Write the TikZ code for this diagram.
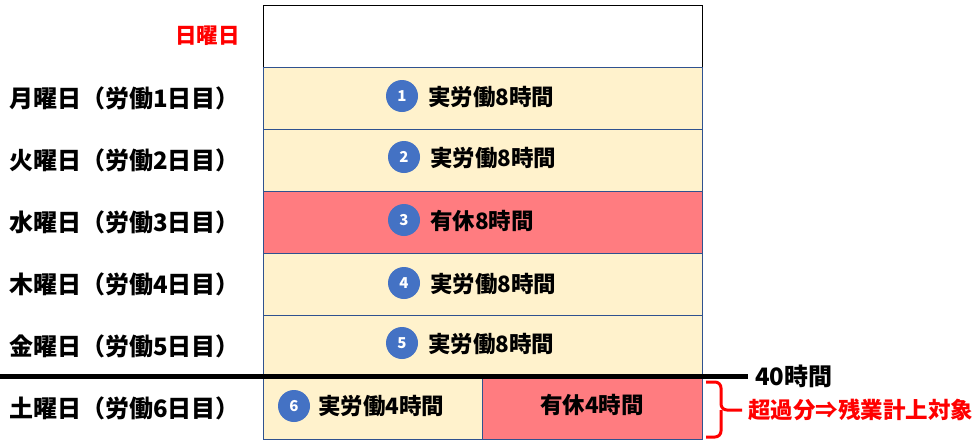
\documentclass[tikz,border=0pt]{standalone}
\usepackage{fontspec}
\setmainfont{Noto Sans CJK JP}
\usetikzlibrary{calc}
\definecolor{cellyellow}{HTML}{FFF2CC}
\definecolor{cellred}{HTML}{FF7C80}
\definecolor{cellborder}{HTML}{2F528F}
\definecolor{numblue}{HTML}{4472C4}
\definecolor{alertred}{HTML}{FF0000}
\begin{document}
\begin{tikzpicture}[x=1pt,y=-1pt,
  cell/.style={draw=cellborder, line width=0.9pt},
  daylabel/.style={anchor=east, font=\fontsize{24}{28}\selectfont\bfseries, inner sep=0pt},
  celltext/.style={anchor=west, font=\fontsize{22.5}{26}\selectfont\bfseries, inner sep=0pt},
  numcircle/.style={circle, fill=numblue, minimum size=32pt, inner sep=0pt, text=white, font=\fontsize{15}{18}\selectfont\bfseries}]
\useasboundingbox (0,0) rectangle (980,445);
% rows
\draw[line width=0.9pt, fill=white] (263,5) rectangle (702,67);
\node[daylabel, text=alertred, font=\fontsize{21.5}{24}\selectfont\bfseries] (l0) at (240,36) {日曜日};
\filldraw[cell, fill=cellyellow] (263,67) rectangle (702,129);
\filldraw[cell, fill=cellyellow] (263,129) rectangle (702,191);
\filldraw[cell, fill=cellred] (263,191) rectangle (702,253);
\filldraw[cell, fill=cellyellow] (263,253) rectangle (702,315);
\filldraw[cell, fill=cellyellow] (263,315) rectangle (702,377);
\filldraw[cell, fill=cellyellow] (263,377) rectangle (482,439);
\filldraw[cell, fill=cellred] (482,377) rectangle (702,439);
% labels
\node[daylabel] (l1) at (240,98) {月曜日（労働1日目）};
\node[daylabel] (l2) at (240,160) {火曜日（労働2日目）};
\node[daylabel] (l3) at (240,222) {水曜日（労働3日目）};
\node[daylabel] (l4) at (240,284) {木曜日（労働4日目）};
\node[daylabel] (l5) at (240,346) {金曜日（労働5日目）};
\node[daylabel] (l6) at (240,408) {土曜日（労働6日目）};
% cell contents
\node[numcircle] (c1) at (402,96) {1};
\node[celltext] (t1) at (428,97) {実労働8時間};
\node[numcircle] (c2) at (404,157) {2};
\node[celltext] (t2) at (430,158) {実労働8時間};
\node[numcircle] (c3) at (404,220) {3};
\node[celltext] (t3) at (430,221) {有休8時間};
\node[numcircle] (c4) at (404,283) {4};
\node[celltext] (t4) at (430,284) {実労働8時間};
\node[numcircle] (c5) at (402,343) {5};
\node[celltext] (t5) at (428,344) {実労働8時間};
\node[numcircle] (c6) at (294,406) {6};
\node[celltext] (t6) at (318,406) {実労働4時間};
\node[font=\fontsize{22.5}{26}\selectfont\bfseries, inner sep=0pt] (t7) at (592,405) {有休4時間};
% 40h line
\coordinate (lineL) at (0,376);
\coordinate (lineR) at (748,376);
\draw[line width=5pt] (lineL) -- (lineR);
\node[anchor=west, font=\fontsize{24}{28}\selectfont\bfseries, inner sep=0pt] (h40) at (755,376) {40時間};
% brace
\coordinate (bt) at (706,382);
\coordinate (bb) at (706,437);
\coordinate (btip) at (742,410);
\draw[alertred, line width=3pt, rounded corners=6pt] (bt) -- (721,382) -- (721,410) -- (btip);
\draw[alertred, line width=3pt, rounded corners=6pt] (bb) -- (721,437) -- (721,410);
\node[anchor=west, text=alertred, font=\fontsize{22.5}{26}\selectfont\bfseries, inner sep=0pt] (over) at (748,410) {超過分⇒残業計上対象};
\end{tikzpicture}
\end{document}
